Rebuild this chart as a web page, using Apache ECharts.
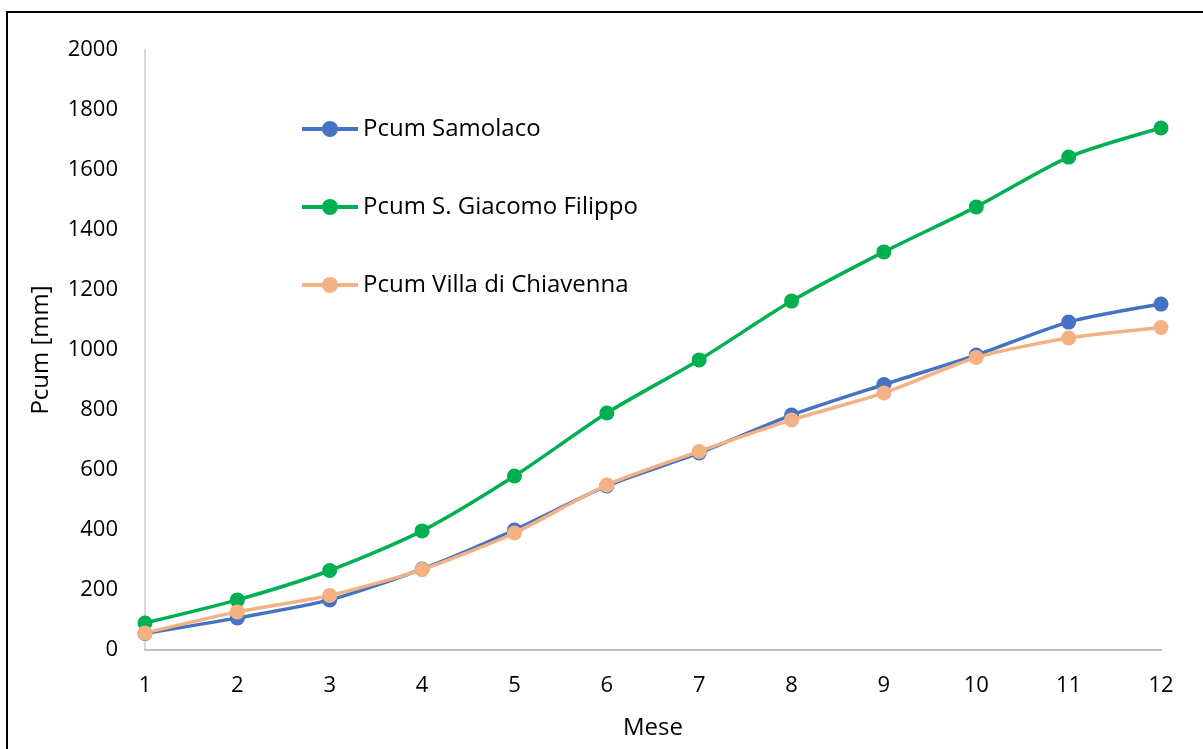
<!DOCTYPE html>
<html>
<head>
<meta charset="utf-8">
<script src="https://cdn.jsdelivr.net/npm/echarts@6/dist/echarts.min.js"></script>
<style>
  html, body { margin: 0; padding: 0; background: #fff; }
  #chart { width: 1203px; height: 749px; }
</style>
</head>
<body>
<div id="chart"></div>
<script>
// Monthly cumulative precipitation (mm) at three stations
const months = ['1', '2', '3', '4', '5', '6', '7', '8', '9', '10', '11', '12'];
const samolaco = [55, 107, 167, 270, 400, 547, 657, 783, 885, 983, 1093, 1153];
const giacomoFilippo = [90, 167, 265, 397, 580, 790, 967, 1163, 1327, 1477, 1643, 1740];
const villaChiavenna = [57, 127, 182, 268, 390, 550, 662, 767, 857, 975, 1040, 1075];

const seriesNames = ['Pcum Samolaco', 'Pcum S. Giacomo Filippo', 'Pcum Villa di Chiavenna'];
const seriesColors = ['#4472C4', '#00B050', '#F4B183'];
const seriesData = [samolaco, giacomoFilippo, villaChiavenna];

const FONT = '"Open Sans", "Liberation Sans", sans-serif';

const chart = echarts.init(document.getElementById('chart'), null, { renderer: 'canvas' });

chart.setOption({
  backgroundColor: '#ffffff',
  animation: false,
  graphic: [
    { type: 'line', shape: { x1: 7, y1: 12, x2: 7, y2: 749 }, style: { stroke: '#000', lineWidth: 2 } },
    { type: 'line', shape: { x1: 6, y1: 12, x2: 1203, y2: 12 }, style: { stroke: '#000', lineWidth: 2 } }
  ],
  legend: {
    orient: 'vertical',
    left: 295,
    top: 112,
    itemGap: 54,
    itemWidth: 56,
    itemHeight: 20,
    data: seriesNames,
    lineStyle: { width: 4 },
    textStyle: { fontFamily: FONT, fontSize: 24, color: '#000' }
  },
  grid: { left: 145, right: 42, top: 50, bottom: 99, containLabel: false },
  xAxis: {
    type: 'category',
    data: months,
    boundaryGap: false,
    name: 'Mese',
    nameLocation: 'middle',
    nameGap: 66,
    nameTextStyle: { fontFamily: FONT, fontSize: 24, color: '#000' },
    axisLine: { lineStyle: { color: '#BFBFBF', width: 2 } },
    axisTick: { show: false },
    axisLabel: { fontFamily: FONT, fontSize: 22, color: '#000', margin: 25 },
    splitLine: { show: false }
  },
  yAxis: {
    type: 'value',
    min: 0,
    max: 2000,
    interval: 200,
    name: 'Pcum [mm]',
    nameLocation: 'middle',
    nameGap: 92,
    nameTextStyle: { fontFamily: FONT, fontSize: 24, color: '#000' },
    axisLine: { show: true, lineStyle: { color: '#D9D9D9', width: 2 } },
    axisTick: { show: false },
    axisLabel: { fontFamily: FONT, fontSize: 22, color: '#000', margin: 27, formatter: v => String(v) },
    splitLine: { show: false }
  },
  series: seriesNames.map((name, i) => ({
    name: name,
    type: 'line',
    data: seriesData[i],
    smooth: 0.25,
    symbol: 'circle',
    symbolSize: 15,
    lineStyle: { color: seriesColors[i], width: 3.5 },
    itemStyle: { color: seriesColors[i] },
    z: [1, 2, 3][i]
  }))
});
</script>
</body>
</html>
